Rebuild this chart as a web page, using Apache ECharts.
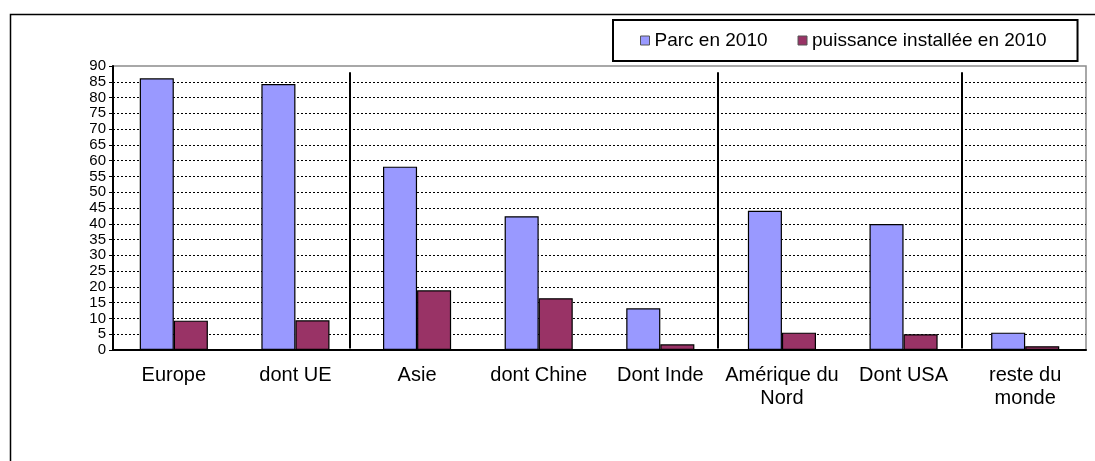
<!DOCTYPE html>
<html lang="fr">
<head>
    <meta charset="UTF-8">
    <title>Parc et puissance installée en 2010</title>
    <script src="https://cdn.jsdelivr.net/npm/echarts@6/dist/echarts.min.js"></script>
</head>
<style type="text/css">
    html,body,#chart{
        width: 100%;
        height: 100%;
        margin: 0;
        padding: 0;
        background: #fff;
    }
</style>
<body>
<div id="chart"></div>
<script>
    // categories and values
    var categories = ['Europe', 'dont UE', 'Asie', 'dont Chine', 'Dont Inde', 'Amérique du\nNord', 'Dont USA', 'reste du\nmonde'];
    var parc2010 = [86.1, 84.3, 58.1, 42.4, 13.2, 44.1, 39.9, 5.5];
    var puissance2010 = [9.3, 9.4, 18.9, 16.4, 1.8, 5.5, 5.0, 1.2];
    // vertical separators between groups (in category units)
    var separators = [1.95, 4.97, 6.98];
    var sepTop = 88, sepBottom = 0.5;

    var font = 'Liberation Sans, Arial, sans-serif';

    // dotted black gridlines, the top one (90) left to the grey border
    var gridColors = [];
    for (var i = 0; i < 19; i++) {
        gridColors.push(i === 18 ? 'rgba(0,0,0,0)' : '#000');
    }

    var sepLines = [];
    for (var k = 0; k < separators.length; k++) {
        sepLines.push({coords: [[separators[k], sepTop], [separators[k], sepBottom]]});
    }

    var myChart = echarts.init(document.getElementById('chart'));
    var options = {
        backgroundColor: '#fff',
        animation: false,
        textStyle: {fontFamily: font},
        graphic: [{
            type: 'rect',
            left: 8,
            top: 12,
            shape: {x: 0, y: 0, width: 1100, height: 460},
            style: {fill: 'none', stroke: '#000', lineWidth: 1.5},
            silent: true
        }],
        legend: {
            left: 613,
            top: 20,
            padding: [11, 31, 11, 27],
            itemWidth: 9,
            itemHeight: 9,
            itemGap: 30,
            borderColor: '#000',
            borderWidth: 2,
            backgroundColor: '#fff',
            icon: 'rect',
            itemStyle: {borderColor: '#555', borderWidth: 1},
            textStyle: {fontFamily: font, fontSize: 19, color: '#000'},
            data: ['Parc en 2010', 'puissance installée en 2010']
        },
        grid: {
            left: 113,
            right: 9,
            top: 66,
            bottom: 111,
            show: true,
            borderColor: '#8c8c8c',
            borderWidth: 1.5
        },
        xAxis: [{
            type: 'category',
            data: categories,
            axisLine: {lineStyle: {color: '#000', width: 2}},
            axisTick: {length: 5, lineStyle: {color: '#000', width: 1.5}},
            axisLabel: {
                color: '#000',
                fontSize: 20,
                lineHeight: 23,
                margin: 14,
                interval: 0
            }
        }, {
            type: 'value',
            show: false,
            min: 0,
            max: 8
        }],
        yAxis: [{
            type: 'value',
            min: 0,
            max: 90,
            interval: 5,
            axisLine: {show: true, lineStyle: {color: '#000', width: 2}},
            axisTick: {show: true, length: 4, lineStyle: {color: '#000'}},
            axisLabel: {
                color: '#000',
                fontSize: 15,
                margin: 7,
                showMinLabel: true,
                showMaxLabel: true
            },
            splitLine: {
                show: true,
                lineStyle: {color: gridColors, type: [2, 2], width: 1}
            }
        }],
        series: [{
            name: 'Parc en 2010',
            type: 'bar',
            barGap: '0%',
            barCategoryGap: '44%',
            itemStyle: {color: '#9999ff', borderColor: '#000', borderWidth: 1.2},
            data: parc2010
        }, {
            name: 'puissance installée en 2010',
            type: 'bar',
            itemStyle: {color: '#993366', borderColor: '#000', borderWidth: 1.2},
            data: puissance2010
        }, {
            name: 'separateurs',
            type: 'lines',
            coordinateSystem: 'cartesian2d',
            xAxisIndex: 1,
            yAxisIndex: 0,
            silent: true,
            lineStyle: {color: '#000', width: 2, opacity: 1},
            data: sepLines
        }]
    };
    myChart.setOption(options);
</script>
</body>
</html>
